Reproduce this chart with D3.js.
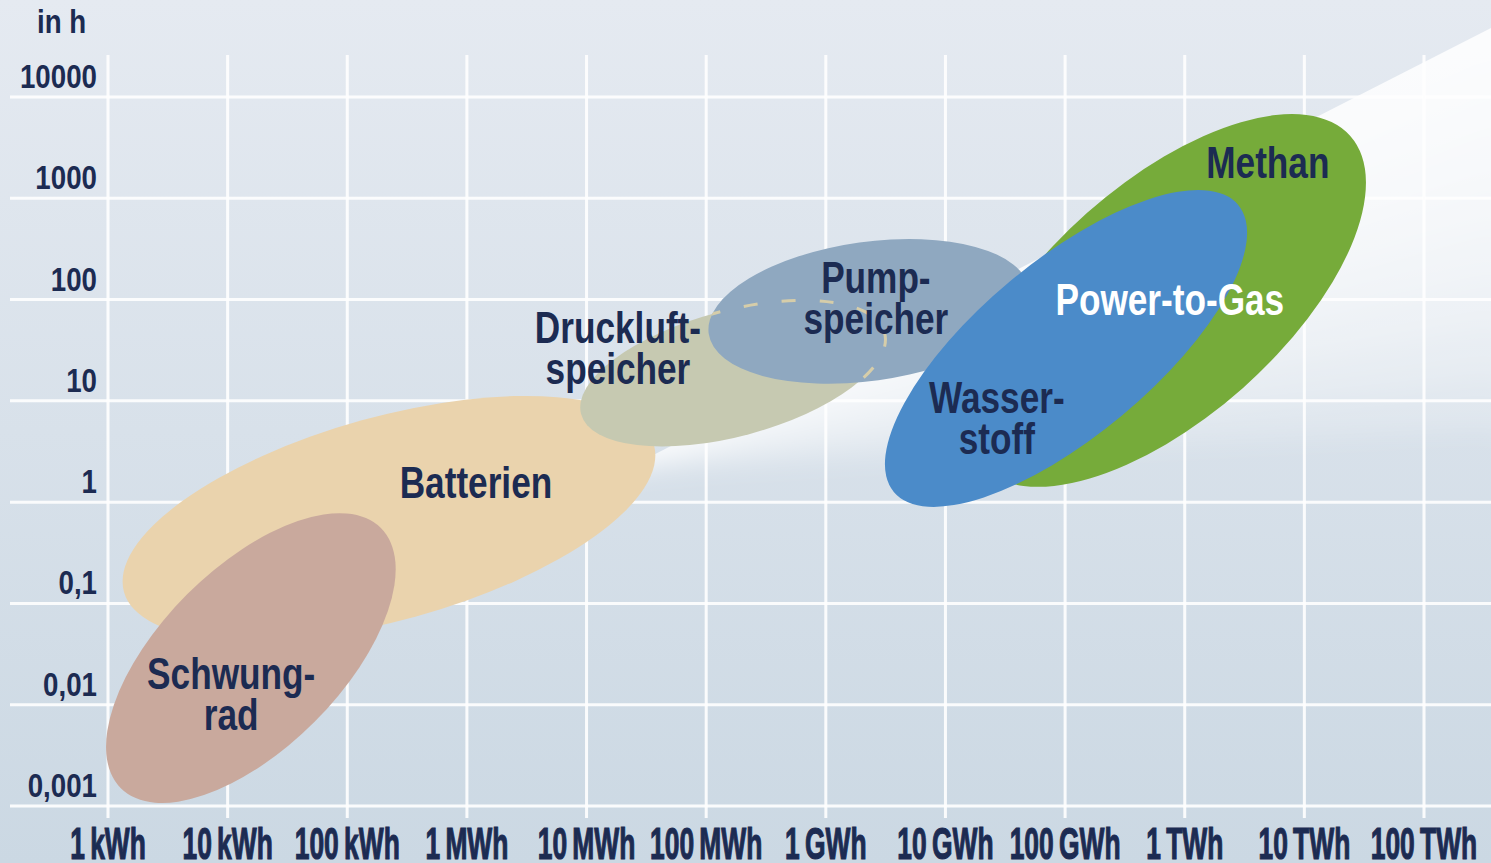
<!DOCTYPE html>
<html>
<head>
<meta charset="utf-8">
<script src="https://cdn.jsdelivr.net/npm/d3@7"></script>
<style>
  html, body { margin: 0; padding: 0; background: #dce4ec; }
  svg { display: block; }
  text { font-family: 'Liberation Sans', Arial, sans-serif; font-weight: bold; fill: #1c2b52; }
</style>
</head>
<body>
<div id="chart"></div>
<script>
// energy in kWh, duration in hours
var energyTicks = [1, 1e1, 1e2, 1e3, 1e4, 1e5, 1e6, 1e7, 1e8, 1e9, 1e10, 1e11]
var energyLabels = ['1\u2009kWh', '10\u2009kWh', '100\u2009kWh', '1\u2009MWh', '10\u2009MWh', '100\u2009MWh',
  '1\u2009GWh', '10\u2009GWh', '100\u2009GWh', '1\u2009TWh', '10\u2009TWh', '100\u2009TWh']
var hourTicks = [0.001, 0.01, 0.1, 1, 10, 100, 1000, 10000]
var hourLabels = ['0,001', '0,01', '0,1', '1', '10', '100', '1000', '10000']

// storage technologies: long axis of each region from (eFrom, hFrom) to (eTo, hTo), spread = short/long
var techs = ['Batterien', 'Schwungrad', 'Druckluftspeicher', 'Pumpspeicher', 'Methan', 'Wasserstoff']
var eFrom = [1.36, 1.28, 9000, 1.05e5, 1.93e7, 3.7e6]
var hFrom = [0.13, 0.0015, 7.4, 46, 2.33, 1.26]
var eTo = [36600, 191, 3.1e6, 5.0e7, 2.42e10, 2.8e9]
var hTo = [3.67, 0.556, 47, 127, 4120, 860]
var spread = [0.37, 0.49, 0.40, 0.43, 0.473, 0.39]

// labels: lines and anchor (first baseline) in data units
var labelLines = [['Batterien'], ['Schwung-', 'rad'], ['Druckluft-', 'speicher'], ['Pump-', 'speicher'],
  ['Methan'], ['Wasser-', 'stoff'], ['Power-to-Gas']]
var labelE = [1190, 10.7, 18300, 2.62e6, 4.95e9, 2.69e7, 7.5e8]
var labelH = [1.1, 0.0142, 37.3, 116, 1585, 7.6, 70.5]

var colors = {
  Batterien: '#ead3ad', Schwungrad: '#c9a99d', Druckluftspeicher: '#c6c9b1',
  Pumpspeicher: '#8fa8c0', Methan: '#76ab3a', Wasserstoff: '#4b8bc9'
}

var width = 1491, height = 863

var svg = d3.select('#chart').append('svg')
  .attr('width', width).attr('height', height)

var x = d3.scaleLog().domain([1, 1e11]).range([108, 1424])
var y = d3.scaleLog().domain([0.001, 10000]).range([806, 97])

var defs = svg.append('defs')
var bg = defs.append('linearGradient').attr('id', 'bg').attr('x1', 0).attr('y1', 0).attr('x2', 0).attr('y2', 1)
bg.append('stop').attr('offset', 0).attr('stop-color', '#e5eaf1')
bg.append('stop').attr('offset', 1).attr('stop-color', '#cbd8e3')

svg.append('rect').attr('width', width).attr('height', height).attr('fill', 'url(#bg)')

// light diagonal band: sharp upper edge, soft fanned lower side
var bandApex = [620, 472], bandTop = [1491, 28]
defs.append('clipPath').attr('id', 'band-clip').append('path')
  .attr('d', 'M' + bandApex + ' L' + bandTop + ' L1491,863 L0,863 Z')
defs.append('filter').attr('id', 'soft')
  .attr('filterUnits', 'userSpaceOnUse')
  .attr('x', 0).attr('y', -200).attr('width', 1700).attr('height', 1100)
  .append('feGaussianBlur').attr('stdDeviation', 12)

var bandG = svg.append('g').attr('clip-path', 'url(#band-clip)')
  .append('g').attr('filter', 'url(#soft)')
d3.range(1, 9).forEach(function(k) {
  bandG.append('path')
    .attr('d', 'M560,440 L1560,-90 L1560,' + (28 + k * 55) + ' L1491,' + (28 + k * 50) + ' L' + bandApex + ' Z')
    .attr('fill', '#fff').attr('opacity', 0.21)
})

// grid
var grid = svg.append('g')
grid.selectAll('line.h').data(hourTicks).join('line')
  .attr('x1', 10).attr('x2', width)
  .attr('y1', d => y(d)).attr('y2', d => y(d))
  .attr('stroke', '#fff').attr('stroke-width', 3).attr('opacity', 0.9)
grid.selectAll('line.v').data(energyTicks).join('line')
  .attr('x1', d => x(d)).attr('x2', d => x(d))
  .attr('y1', 55).attr('y2', 818)
  .attr('stroke', '#fff').attr('stroke-width', 3).attr('opacity', 0.9)

// regions
var regions = techs.map(function(name, i) {
  var x1 = x(eFrom[i]), y1 = y(hFrom[i]), x2 = x(eTo[i]), y2 = y(hTo[i])
  var rx = Math.hypot(x2 - x1, y2 - y1) / 2
  return {
    name: name,
    cx: (x1 + x2) / 2, cy: (y1 + y2) / 2,
    rx: rx, ry: rx * spread[i],
    angle: Math.atan2(y2 - y1, x2 - x1) * 180 / Math.PI
  }
})

function ellipse(sel) {
  sel.attr('cx', 0).attr('cy', 0)
    .attr('rx', d => d.rx).attr('ry', d => d.ry)
    .attr('transform', d => 'translate(' + d.cx + ',' + d.cy + ') rotate(' + d.angle + ')')
}

var byName = {}
regions.forEach(d => byName[d.name] = d)

defs.append('clipPath').attr('id', 'pump-clip')
  .append('ellipse').datum(byName.Pumpspeicher).call(ellipse)

var regionG = svg.append('g')
regions.forEach(function(d) {
  regionG.append('ellipse').datum(d).call(ellipse).attr('fill', colors[d.name])
  // hidden outline of compressed air region shows dashed through pumped hydro
  if (d.name == 'Pumpspeicher') {
    regionG.append('g').attr('clip-path', 'url(#pump-clip)')
      .append('ellipse').datum(byName.Druckluftspeicher).call(ellipse)
      .attr('fill', 'none').attr('stroke', '#d6cda9')
      .attr('stroke-width', 3).attr('stroke-dasharray', '14 24')
  }
})

// labels
var labels = svg.append('g')
labelLines.forEach(function(lines, i) {
  var white = lines[0] == 'Power-to-Gas'
  var t = labels.append('g')
    .attr('transform', 'translate(' + x(labelE[i]) + ',' + y(labelH[i]) + ') scale(0.8,1)')
    .append('text')
    .attr('text-anchor', 'middle')
    .attr('font-size', 44)
    .style('fill', white ? '#ffffff' : '#1c2b52')
  lines.forEach(function(l, j) {
    t.append('tspan').attr('x', 0).attr('y', j * 41).text(l)
  })
})

// y axis labels
svg.append('g').selectAll('text').data(hourTicks).join('text')
  .attr('transform', d => 'translate(97,' + (y(d) - 9) + ') scale(0.84,1)')
  .attr('text-anchor', 'end').attr('font-size', 33)
  .text((d, i) => hourLabels[i])

svg.append('text').attr('transform', 'translate(37,33) scale(0.84,1)').attr('font-size', 33).text('in h')

// x axis labels
svg.append('g').selectAll('text').data(energyTicks).join('text')
  .attr('transform', d => 'translate(' + x(d) + ',859) scale(0.6,1)')
  .attr('text-anchor', 'middle').attr('font-size', 44)
  .attr('stroke', '#1c2b52').attr('stroke-width', 1.2)
  .text((d, i) => energyLabels[i])
</script>
</body>
</html>
